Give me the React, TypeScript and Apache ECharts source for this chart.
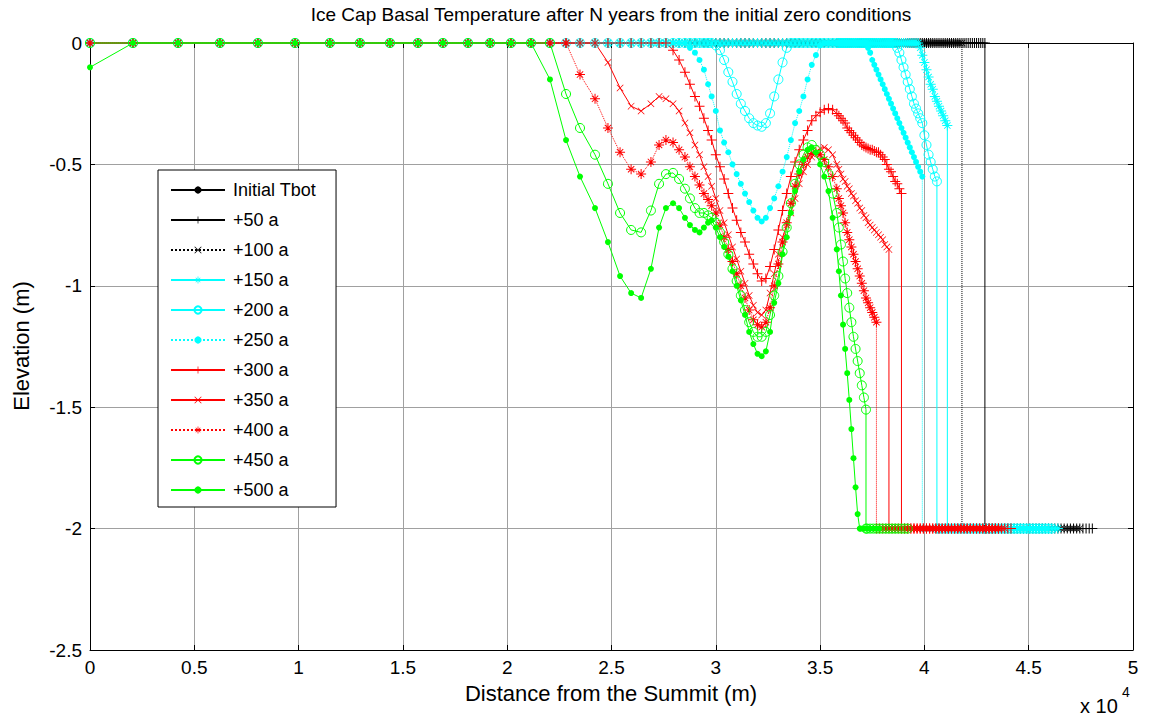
import React, { useEffect, useRef } from "react";
import * as echarts from "echarts";

const FONT = 'Arial, "Liberation Sans", Helvetica, sans-serif';

const TITLE = "Ice Cap Basal Temperature after N years from the initial zero conditions";
const X_LABEL = "Distance from the Summit (m)";
const Y_LABEL = "Elevation (m)";

const NAMES = ["Initial Tbot", "+50 a", "+100 a", "+150 a", "+200 a", "+250 a", "+300 a", "+350 a", "+400 a", "+450 a", "+500 a"];

// mesh nodes along the bed (m)
const MESH_X = [
  0, 2060, 4220, 6230, 8050, 9830, 11500, 12940, 14380, 15720,
  16920, 18120, 19180, 20180, 21140, 22050, 22820, 23490, 24210, 24830,
  25410, 25940, 26420, 26890, 27280, 27610, 27950, 28240, 28520, 28760,
  29000, 29220, 29430, 29630,
  29800, 30000, 30200, 30400, 30600, 30800, 31000, 31200, 31400, 31600,
  31800, 32000, 32200, 32400, 32600, 32800, 33000, 33200, 33400, 33600,
  33800, 34000, 34200, 34400, 34600, 34800, 35000, 35200, 35400, 35600, 35800,
  35900, 36000, 36100, 36200, 36300, 36400, 36500, 36600, 36700, 36800,
  36900, 37000, 37100, 37200, 37300, 37400, 37500, 37600, 37700, 37800,
  37900, 38000, 38100, 38200, 38300, 38400, 38500, 38600, 38700, 38800,
  38900, 39000, 39100, 39200, 39300, 39400, 39500, 39600, 39700, 39800,
  39900, 40000, 40100, 40200, 40300, 40400, 40500, 40600, 40700, 40800,
  40900, 41000, 41100, 41200, 41300, 41400, 41500, 41600, 41700, 41800,
  41900, 42000, 42100, 42200, 42300, 42400, 42500, 42600, 42700, 42800,
  42900, 43000, 43100, 43200, 43300, 43400, 43500, 43600, 43700, 43800,
  43900,
];

// nodes of the lower (-2) branch (m)
const BOTTOM_X = [
  36800, 36950, 37100, 37250, 37400, 37550, 37700, 37850, 38000, 38150,
  38300, 38450, 38600, 38750, 38900, 39050, 39200, 39350, 39500, 39650,
  39800, 39950, 40100, 40250, 40400, 40550, 40700, 40850, 41000, 41150,
  41300, 41450, 41600, 41750, 41900, 42050, 42200, 42350, 42500, 42650,
  42800, 42950, 43100, 43250, 43400, 43550, 43700, 43850, 44000, 44150,
  44300, 44450, 44600, 44750, 44900, 45050, 45200, 45350, 45500, 45650,
  45800, 45950, 46100, 46250, 46400, 46550, 46700, 46850, 47000, 47150,
  47300, 47450, 47600, 47750, 47900, 48050,
];
const BOTTOM_LEVEL = -2;

// last mesh index of the flat series
const INIT_LAST = 145;
const P50_LAST = 135;
const P100_LAST = 124;

// series values from a start mesh index (zero before it)
const P150_START = 104;
const P150 = [-0.02, -0.05, -0.08, -0.11, -0.14, -0.17, -0.19, -0.22, -0.24, -0.26, -0.28, -0.30, -0.32, -0.34];

const P200_START = 35;
const P200 = [
  -0.01, -0.03, -0.07, -0.12, -0.16, -0.21, -0.25, -0.28, -0.31,
  -0.33, -0.34, -0.345, -0.33, -0.29, -0.22, -0.15, -0.08, -0.02, 0,
  0, 0, 0, 0, 0, 0, 0, 0, 0, 0, 0,
  0, 0, 0, 0, 0, 0, 0, 0, 0, 0,
  0, 0, 0, 0, 0, 0, 0, 0, 0, 0,
  0, 0, 0, 0, 0, 0, 0, 0, -0.02, -0.04,
  -0.07, -0.10, -0.13, -0.16, -0.19, -0.22, -0.25, -0.27, -0.29, -0.31,
  -0.33, -0.38, -0.42, -0.46, -0.49, -0.52, -0.55, -0.57,
];

const P250_START = 29;
const P250 = [
  -0.02, -0.04, -0.07, -0.11, -0.17,
  -0.22, -0.28, -0.36, -0.41, -0.45, -0.50, -0.54, -0.58, -0.62, -0.655,
  -0.69, -0.72, -0.735, -0.72, -0.68, -0.64, -0.59, -0.53, -0.47, -0.40,
  -0.33, -0.28, -0.22, -0.15, -0.09, -0.05, -0.01, 0, 0, 0, 0,
  0, 0, 0, 0, 0, 0, 0, 0, 0, 0,
  0, 0, 0, 0, -0.02, -0.04, -0.07, -0.09, -0.11, -0.13,
  -0.15, -0.17, -0.19, -0.21, -0.23, -0.25, -0.27, -0.29, -0.31, -0.33,
  -0.35, -0.37, -0.39, -0.41, -0.43, -0.45, -0.47, -0.49, -0.51, -0.53, -0.55,
];

const P300_START = 26;
const P300 = [
  -0.03, -0.07, -0.12, -0.17, -0.22, -0.26, -0.31, -0.36,
  -0.40, -0.46, -0.51, -0.56, -0.62, -0.68, -0.73, -0.78, -0.82, -0.87,
  -0.91, -0.95, -0.98, -0.97, -0.92, -0.85, -0.77, -0.69, -0.62, -0.55,
  -0.49, -0.44, -0.40, -0.36, -0.32, -0.30, -0.285, -0.275, -0.27, -0.275, -0.29,
  -0.30, -0.31, -0.32, -0.33, -0.35, -0.36, -0.37, -0.38, -0.39, -0.40,
  -0.41, -0.42, -0.425, -0.43, -0.435, -0.44, -0.44, -0.445, -0.45, -0.45,
  -0.46, -0.47, -0.48, -0.50, -0.52, -0.53, -0.55, -0.57, -0.58, -0.60, -0.62,
];

const P350_START = 19;
const P350 = [
  -0.08, -0.185, -0.26, -0.28, -0.25, -0.22,
  -0.23, -0.25, -0.28, -0.33, -0.37, -0.42, -0.46, -0.51, -0.55,
  -0.59, -0.64, -0.69, -0.74, -0.79, -0.84, -0.89, -0.94, -0.99, -1.04,
  -1.08, -1.11, -1.12, -1.10, -1.03, -0.95, -0.87, -0.80, -0.75, -0.70,
  -0.64, -0.58, -0.53, -0.50, -0.47, -0.45, -0.435, -0.43, -0.44, -0.46, -0.50,
  -0.52, -0.54, -0.56, -0.57, -0.59, -0.60, -0.62, -0.63, -0.65, -0.66,
  -0.68, -0.69, -0.71, -0.72, -0.74, -0.75, -0.76, -0.77, -0.78, -0.79,
  -0.80, -0.81, -0.83, -0.84, -0.85,
];

const P400_START = 17;
const P400 = [
  -0.13, -0.23, -0.35, -0.45, -0.52, -0.54, -0.49, -0.42,
  -0.40, -0.41, -0.44, -0.47, -0.51, -0.55, -0.585, -0.62, -0.645,
  -0.67, -0.70, -0.75, -0.80, -0.85, -0.90, -0.95, -1.00, -1.05, -1.10,
  -1.14, -1.16, -1.17, -1.15, -1.09, -1.00, -0.91, -0.82, -0.74, -0.66,
  -0.59, -0.54, -0.50, -0.47, -0.455, -0.45, -0.46, -0.48, -0.51, -0.55, -0.60,
  -0.64, -0.67, -0.70, -0.74, -0.78, -0.81, -0.84, -0.87, -0.90, -0.93,
  -0.96, -0.99, -1.02, -1.05, -1.07, -1.09, -1.11, -1.13, -1.15,
];

const P450_START = 16;
const P450 = [
  -0.21, -0.35, -0.46, -0.58, -0.70, -0.77, -0.78, -0.69, -0.58,
  -0.54, -0.535, -0.56, -0.60, -0.64, -0.68, -0.70, -0.70, -0.71,
  -0.72, -0.74, -0.78, -0.82, -0.87, -0.93, -0.98, -1.04, -1.10, -1.15,
  -1.19, -1.21, -1.21, -1.19, -1.12, -1.04, -0.96, -0.86, -0.76, -0.66,
  -0.58, -0.50, -0.46, -0.43, -0.42, -0.44, -0.46, -0.49, -0.54, -0.62, -0.70,
  -0.76, -0.83, -0.90, -0.97, -1.03, -1.09, -1.15, -1.21, -1.26, -1.31,
  -1.36, -1.41, -1.46, -1.51,
];

const P500_START = 0;
const P500 = [
  -0.1, 0, 0, 0, 0, 0, 0, 0, 0, 0, 0, 0, 0, 0, 0,
  -0.15, -0.40, -0.55, -0.68, -0.82, -0.96, -1.03, -1.05, -0.93, -0.76,
  -0.68, -0.66, -0.68, -0.72, -0.75, -0.77, -0.78, -0.76, -0.74,
  -0.73, -0.76, -0.80, -0.84, -0.88, -0.94, -1.00, -1.06, -1.12, -1.19,
  -1.24, -1.28, -1.29, -1.27, -1.19, -1.07, -0.99, -0.87, -0.80, -0.70,
  -0.61, -0.53, -0.48, -0.44, -0.43, -0.45, -0.50, -0.55, -0.61, -0.72, -0.85,
  -0.94, -1.04, -1.16, -1.26, -1.36, -1.47, -1.59, -1.71, -1.83, -1.94, -2.0,
];

// end of the lower branch for each series (m)
const BOTTOM_END = [null, 48050, 47450, 46400, 46100, 45800, 44150, 43850, 43550, 39200, 37850];

const PLUS = "path://M9,0H11V9H20V11H11V20H9V11H0V9H9Z";
const CROSS = "path://M1.4,0L10,8.6L18.6,0L20,1.4L11.4,10L20,18.6L18.6,20L10,11.4L1.4,20L0,18.6L8.6,10L0,1.4Z";
const STAR =
  "path://M9,0H11V9H20V11H11V20H9V11H0V9H9Z M4.3,3L10,8.7L15.7,3L17,4.3L11.3,10L17,15.7L15.7,17L10,11.3L4.3,17L3,15.7L8.7,10L3,4.3Z";

function build(start: number, vals: number[], last: number, bottomEnd: number | null) {
  const pts: number[][] = [];
  for (let i = 0; i <= last; i++) {
    pts.push([MESH_X[i], i < start ? 0 : vals[i - start]]);
  }
  if (bottomEnd !== null) {
    const xd = MESH_X[last];
    if (pts[pts.length - 1][1] > BOTTOM_LEVEL) pts.push([xd, BOTTOM_LEVEL]);
    for (const bx of BOTTOM_X) {
      if (bx > xd && bx <= bottomEnd) pts.push([bx, BOTTOM_LEVEL]);
    }
  }
  return pts;
}

const DATA = [
  build(0, [], INIT_LAST, BOTTOM_END[0]),
  build(P50_LAST + 1, [], P50_LAST, BOTTOM_END[1]),
  build(P100_LAST + 1, [], P100_LAST, BOTTOM_END[2]),
  build(P150_START, P150, P150_START + P150.length - 1, BOTTOM_END[3]),
  build(P200_START, P200, P200_START + P200.length - 1, BOTTOM_END[4]),
  build(P250_START, P250, P250_START + P250.length - 1, BOTTOM_END[5]),
  build(P300_START, P300, P300_START + P300.length - 1, BOTTOM_END[6]),
  build(P350_START, P350, P350_START + P350.length - 1, BOTTOM_END[7]),
  build(P400_START, P400, P400_START + P400.length - 1, BOTTOM_END[8]),
  build(P450_START, P450, P450_START + P450.length - 1, BOTTOM_END[9]),
  build(P500_START, P500, P500_START + P500.length - 1, BOTTOM_END[10]),
];

const BLACK = "#000000";
const CYAN = "#00ffff";
const RED = "#ff0000";
const GREEN = "#00ff00";

const STYLES = [
  { color: BLACK, symbol: "circle", size: 6, line: "solid", hollow: false },
  { color: BLACK, symbol: PLUS, size: 10, line: "solid", hollow: false },
  { color: BLACK, symbol: CROSS, size: 7, line: "dotted", hollow: false },
  { color: CYAN, symbol: STAR, size: 10, line: "solid", hollow: false },
  { color: CYAN, symbol: "circle", size: 9, line: "solid", hollow: true },
  { color: CYAN, symbol: "circle", size: 6, line: "dotted", hollow: false },
  { color: RED, symbol: PLUS, size: 10, line: "solid", hollow: false },
  { color: RED, symbol: CROSS, size: 7, line: "solid", hollow: false },
  { color: RED, symbol: STAR, size: 10, line: "dotted", hollow: false },
  { color: GREEN, symbol: "circle", size: 9, line: "solid", hollow: true },
  { color: GREEN, symbol: "circle", size: 6, line: "solid", hollow: false },
];

const X_MIN = 0;
const X_MAX = 50000;
const X_STEP = 5000;
const Y_MIN = -2.5;
const Y_MAX = 0;
const Y_STEP = 0.5;

export default function App() {
  const ref = useRef<HTMLDivElement>(null);
  useEffect(() => {
    const chart = echarts.init(ref.current!, null, { renderer: "svg" });
    const axisLine = { show: true, onZero: false, lineStyle: { color: "#000", width: 1 } };
    const axisTick = { show: true, inside: true, length: 5, lineStyle: { color: "#000", width: 1 } };
    const split = { show: true, lineStyle: { color: "#a0a0a0", width: 1, type: "solid" } };
    const option: any = {
      animation: false,
      backgroundColor: "#fff",
      grid: { left: 90, right: 20, top: 43, bottom: 70, containLabel: false },
      xAxis: [
        {
          type: "value", min: X_MIN, max: X_MAX, interval: X_STEP, position: "bottom",
          axisLine, axisTick, splitLine: split,
          axisLabel: { color: "#000", fontSize: 19, fontFamily: FONT, margin: 8, formatter: (v: number) => String(v / 10000) },
        },
        {
          type: "value", min: X_MIN, max: X_MAX, interval: X_STEP, position: "top",
          axisLine, axisTick, splitLine: { show: false }, axisLabel: { show: false },
        },
      ],
      yAxis: [
        {
          type: "value", min: Y_MIN, max: Y_MAX, interval: Y_STEP, position: "left",
          axisLine, axisTick, splitLine: split,
          axisLabel: { color: "#000", fontSize: 19, fontFamily: FONT, margin: 8 },
        },
        {
          type: "value", min: Y_MIN, max: Y_MAX, interval: Y_STEP, position: "right",
          axisLine, axisTick, splitLine: { show: false }, axisLabel: { show: false },
        },
      ],
      legend: {
        orient: "vertical", left: 158, top: 170, itemWidth: 54, itemHeight: 9, itemGap: 10,
        padding: [10, 20, 7, 12], backgroundColor: "#fff", borderColor: "#000", borderWidth: 1,
        textStyle: { color: "#000", fontSize: 18, fontFamily: FONT, lineHeight: 20, padding: [0, 0, 0, 3] },
        selectedMode: false,
        data: NAMES,
      },
      graphic: [
        { type: "text", x: 611, y: 14, style: { text: TITLE, fill: "#000", font: `19px ${FONT}`, align: "center", verticalAlign: "middle", textAlign: "center", textVerticalAlign: "middle" } },
        { type: "text", x: 611, y: 693, style: { text: X_LABEL, fill: "#000", font: `22px ${FONT}`, align: "center", verticalAlign: "middle", textAlign: "center", textVerticalAlign: "middle" } },
        { type: "text", x: 21, y: 346, rotation: Math.PI / 2, style: { text: Y_LABEL, fill: "#000", font: `22px ${FONT}`, align: "center", verticalAlign: "middle", textAlign: "center", textVerticalAlign: "middle" } },
        { type: "text", x: 1080, y: 706, style: { text: "x 10", fill: "#000", font: `20px ${FONT}`, align: "left", verticalAlign: "middle", textAlign: "left", textVerticalAlign: "middle" } },
        { type: "text", x: 1122, y: 692, style: { text: "4", fill: "#000", font: `14px ${FONT}`, align: "left", verticalAlign: "middle", textAlign: "left", textVerticalAlign: "middle" } },
      ],
      series: NAMES.map((name, k) => {
        const s = STYLES[k];
        return {
          type: "line",
          name,
          data: DATA[k],
          xAxisIndex: 0,
          yAxisIndex: 0,
          symbol: s.symbol,
          symbolSize: s.size,
          symbolKeepAspect: true,
          showSymbol: true,
          clip: false,
          silent: true,
          emphasis: { disabled: true },
          lineStyle: { color: s.color, width: 1, type: s.line },
          itemStyle: s.hollow
            ? { color: "rgba(255,255,255,0)", borderColor: s.color, borderWidth: 1 }
            : { color: s.color, borderWidth: 0 },
        };
      }),
    };
    chart.setOption(option);
    return () => chart.dispose();
  }, []);
  return <div ref={ref} style={{ position: "fixed", left: 0, top: 0, width: 1153, height: 720, background: "#fff" }} />;
}
